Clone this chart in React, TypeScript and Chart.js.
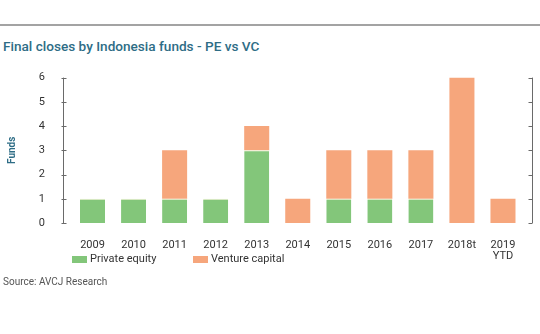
import React, { useEffect, useRef } from "react";
import { Chart, registerables } from "chart.js";

Chart.register(...registerables);

const categories: (string | string[])[] = ["2009", "2010", "2011", "2012", "2013", "2014", "2015", "2016", "2017", "2018t", ["2019", "YTD"]];
const privateEquity = [1, 1, 1, 1, 3, 0, 1, 1, 1, 0, 0];
const ventureCapital = [0, 0, 2, 0, 1, 1, 2, 2, 2, 6, 1];
const yTicks = [0, 1, 2, 3, 4, 5, 6];

const titleText = "Final closes by Indonesia funds - PE vs VC";
const yAxisTitle = "Funds";
const seriesNames = ["Private equity", "Venture capital"];
const sourceText = "Source: AVCJ Research";

const GREEN = "#83c67a";
const ORANGE = "#f6a67c";
const TEAL = "#2e6d86";
const FONT = "Roboto, 'DejaVu Sans', sans-serif";

const axisLines = {
  id: "axisLines",
  afterDraw(chart: any) {
    const { ctx, chartArea, scales } = chart;
    const y = scales.y;
    const xl = Math.round(chartArea.left - 9) + 0.5;
    const xr = Math.round(chartArea.right + 8) + 0.5;
    const yTop = y.getPixelForValue(yTicks[yTicks.length - 1]);
    const yBot = y.getPixelForValue(yTicks[0]);
    ctx.save();
    ctx.strokeStyle = "#6a6a6a";
    ctx.lineWidth = 1;
    ctx.beginPath();
    ctx.moveTo(xl, yTop);
    ctx.lineTo(xl, yBot);
    ctx.moveTo(xr, yTop);
    ctx.lineTo(xr, yBot);
    for (const v of yTicks) {
      const py = Math.round(y.getPixelForValue(v)) + 0.5;
      ctx.moveTo(xl - 2, py);
      ctx.lineTo(xl + 3, py);
      ctx.moveTo(xr - 4, py);
      ctx.lineTo(xr, py);
    }
    ctx.stroke();
    ctx.restore();
  },
};

export default function App() {
  const ref = useRef<HTMLCanvasElement | null>(null);
  useEffect(() => {
    if (!ref.current) return;
    const chart = new Chart(ref.current, {
      type: "bar",
      data: {
        labels: categories as any,
        datasets: [
          { label: seriesNames[0], data: privateEquity, backgroundColor: GREEN, borderColor: "#eef0cf", borderWidth: { top: 1, left: 0, right: 0, bottom: 0 }, borderSkipped: "start", categoryPercentage: 1, barPercentage: 0.61 },
          { label: seriesNames[1], data: ventureCapital, backgroundColor: ORANGE, borderWidth: 0, categoryPercentage: 1, barPercentage: 0.61 },
        ],
      },
      options: {
        animation: false,
        responsive: true,
        maintainAspectRatio: false,
        layout: { padding: { top: 0, right: 16.5, bottom: 12, left: 0 } },
        plugins: {
          legend: { display: false },
          tooltip: { enabled: false },
          title: { display: false },
        },
        scales: {
          x: {
            stacked: true,
            grid: { display: false, drawTicks: false },
            border: { display: false },
            ticks: { color: "#333", font: { family: FONT, size: 11, lineHeight: 1.0 }, padding: 17, maxRotation: 0, autoSkip: false },
            afterFit(s: any) { s.height = 40; },
          },
          y: {
            stacked: true,
            min: 0,
            max: 6,
            grid: { display: false, drawTicks: false },
            border: { display: false },
            ticks: { stepSize: 1, color: "#333", font: { family: FONT, size: 11 }, padding: 27 },
            title: { display: true, text: yAxisTitle, color: TEAL, font: { family: FONT, size: 10, weight: "bold" }, padding: { top: 6, bottom: 0 } },
            afterFit(s: any) { s.width = 72; },
          },
        },
      },
      plugins: [axisLines],
    });
    return () => chart.destroy();
  }, []);

  return (
    <div style={{ position: "absolute", left: 0, top: 0, width: 540, height: 334, background: "#fff", fontFamily: FONT, overflow: "hidden" }}>
      <div style={{ position: "absolute", left: 0, top: 24, width: 540, height: 2, background: "#a3a3a3" }} />
      <div style={{ position: "absolute", left: 3, top: 37, fontSize: 13.6, fontWeight: 500, color: TEAL, whiteSpace: "nowrap", lineHeight: "18px" }}>{titleText}</div>
      <div style={{ position: "absolute", left: 0, top: 44, width: 540, height: 231 }}>
        <canvas ref={ref} style={{ display: "block" }} />
      </div>
      <div style={{ position: "absolute", left: 72, top: 256, width: 15, height: 7, background: GREEN }} />
      <div style={{ position: "absolute", left: 90, top: 252, fontSize: 11, lineHeight: "14px", color: "#333", whiteSpace: "nowrap" }}>{seriesNames[0]}</div>
      <div style={{ position: "absolute", left: 193, top: 256, width: 15, height: 7, background: ORANGE }} />
      <div style={{ position: "absolute", left: 211, top: 252, fontSize: 11, lineHeight: "14px", color: "#333", whiteSpace: "nowrap" }}>{seriesNames[1]}</div>
      <div style={{ position: "absolute", left: 3, top: 275, fontSize: 10, lineHeight: "14px", color: "#555", whiteSpace: "nowrap" }}>{sourceText}</div>
    </div>
  );
}
